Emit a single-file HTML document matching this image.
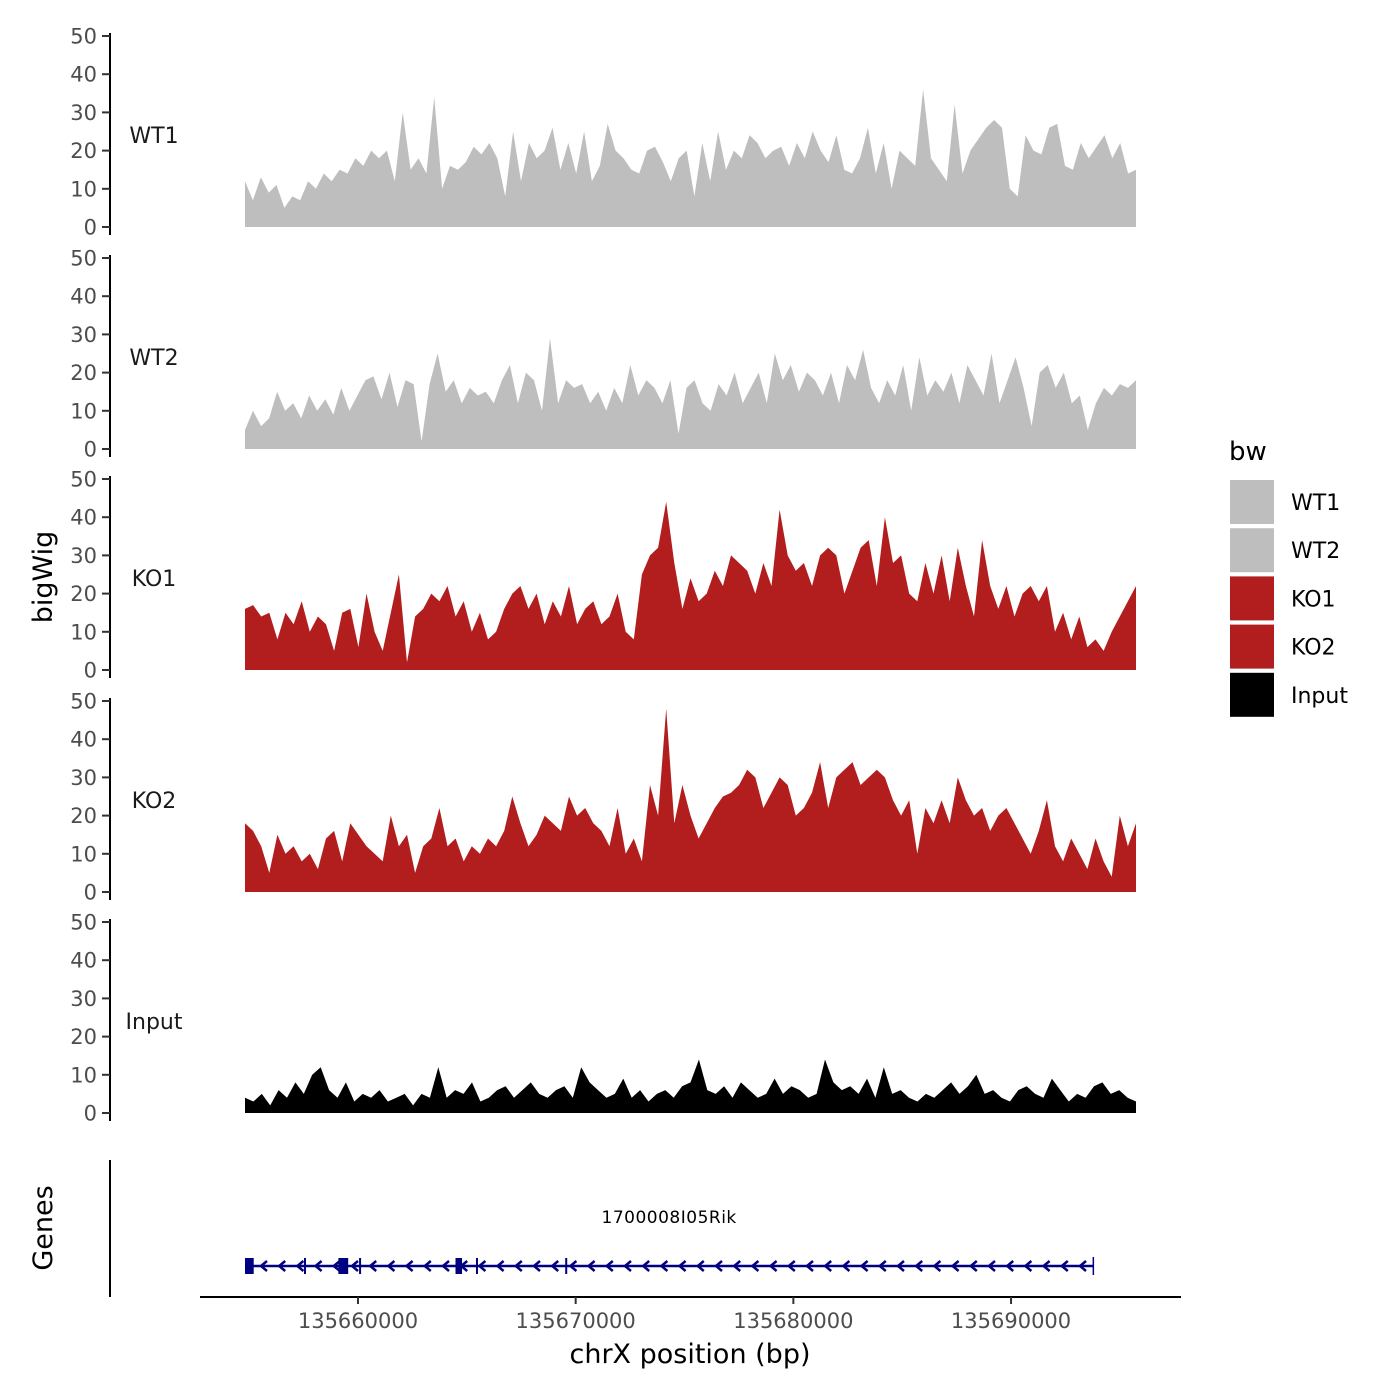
<!DOCTYPE html>
<html><head><meta charset="utf-8"><style>
html,body{margin:0;padding:0;background:#fff;}
svg{display:block;font-family:"DejaVu Sans","Liberation Sans",sans-serif;}
</style></head><body>
<svg id="chart" width="1400" height="1400" viewBox="0 0 1400 1400" xmlns="http://www.w3.org/2000/svg"></svg>
<script>
const regionStart = 135654810;
const regionEnd = 135695740;
const xTicks = [135660000, 135670000, 135680000, 135690000];
const yTicks = [0, 10, 20, 30, 40, 50];
const trackNames = ["WT1", "WT2", "KO1", "KO2", "Input"];
const trackColors = ["#bebebe", "#bebebe", "#b21e1e", "#b21e1e", "#000000"];
const wt1 = [12,7,13,9,11,5,8,7,12,10,14,12,15,14,18,16,20,18,20,12,30,15,18,14,34,10,16,15,17,21,19,22,18,8,25,12,22,18,20,26,15,22,14,25,12,16,27,20,18,15,14,20,21,17,12,18,20,8,22,12,25,15,20,18,24,22,18,20,21,16,22,18,25,20,17,24,15,14,18,26,14,22,10,20,18,16,36,18,15,12,32,14,20,23,26,28,26,10,8,24,20,19,26,27,16,15,22,18,21,24,18,22,14,15];
const wt2 = [5,10,6,8,15,10,12,8,14,10,13,9,16,10,14,18,19,13,20,11,18,17,2,17,25,15,18,12,16,14,15,12,18,22,12,20,18,10,29,12,18,16,17,12,15,10,16,12,22,14,18,16,12,18,4,16,18,12,10,17,14,20,12,16,20,12,25,18,22,15,20,18,14,20,12,22,18,26,16,12,18,14,22,10,24,14,18,15,20,12,22,18,14,25,12,18,24,16,6,20,22,16,20,12,14,5,12,16,14,17,16,18];
const ko1 = [16,17,14,15,8,15,12,18,10,14,12,5,15,16,6,20,10,5,15,25,2,14,16,20,18,22,14,18,10,15,8,10,16,20,22,16,20,12,18,14,22,12,16,18,12,14,20,10,8,25,30,32,44,28,16,24,18,20,26,22,30,28,26,20,28,22,42,30,26,28,22,30,32,30,20,26,32,34,22,40,28,30,20,18,28,20,30,18,32,22,14,34,22,16,22,14,20,22,18,22,10,15,8,14,6,8,5,10,14,18,22];
const ko2 = [18,16,12,5,15,10,12,8,10,6,14,16,8,18,15,12,10,8,20,12,15,5,12,14,22,12,14,8,12,10,14,12,16,25,18,12,15,20,18,16,25,20,22,18,16,12,22,10,14,8,28,20,48,18,28,20,14,18,22,25,26,28,32,30,22,26,30,28,20,22,26,34,22,30,32,34,28,30,32,30,24,20,24,10,22,18,24,18,30,24,20,22,16,20,22,18,14,10,16,24,12,8,14,10,6,14,8,4,20,12,18];
const inputVals = [4,3,5,2,6,4,8,5,10,12,6,4,8,3,5,4,6,3,4,5,2,5,4,12,4,6,5,8,3,4,6,7,4,6,8,5,4,6,7,4,12,8,6,4,5,9,4,6,3,5,6,4,7,8,14,6,5,7,4,8,6,4,5,9,5,7,6,4,5,14,8,6,7,5,9,4,12,5,6,4,3,5,4,6,8,5,7,10,5,6,4,3,6,7,5,4,9,6,3,5,4,7,8,5,6,4,3];
const trackValues = [wt1, wt2, ko1, ko2, inputVals];
const geneName = "1700008I05Rik";
const geneStart = 135654810;
const geneEnd = 135693780;
const exonStarts = [135654810,135657520,135659100,135660050,135664480,135665420,135669520];
const exonWidths = [400,80,450,90,300,90,60];

const NS = "http://www.w3.org/2000/svg";
const svg = document.getElementById("chart");
const X0 = 245, X1 = 1136;
const xs = v => X0 + (v - regionStart) / (regionEnd - regionStart) * (X1 - X0);
const panelBase = [227, 449, 670, 892, 1113];
const PH = 191;
function mk(tag, attrs, parent){const e=document.createElementNS(NS,tag);for(const k in attrs)e.setAttribute(k,attrs[k]);(parent||svg).appendChild(e);return e;}

trackNames.forEach((name, t) => {
  const base = panelBase[t];
  const ys = v => base - v / 50 * PH;
  const g = mk("g", {});
  
  
  const vals = trackValues[t];
  const n = vals.length;
  let d = "M" + X0 + "," + base;
  vals.forEach((v, i) => {
    const pos = regionStart + (regionEnd - regionStart) * i / (n - 1);
    d += " L" + xs(pos).toFixed(1) + "," + ys(v).toFixed(1);
  });
  d += " L" + X1 + "," + base + " Z";
  const area = mk("path", {d: d, fill: trackColors[t]}, g);
  
  
  const ax = mk("line", {x1: 110, x2: 110, y1: base - PH - 3, y2: base + 8, stroke: "#000", "stroke-width": 2}, g);
  
  
  yTicks.forEach(tv => {
    const y = ys(tv);
    mk("line", {x1: 102, x2: 110, y1: y, y2: y, stroke: "#333", "stroke-width": 2}, g);
    const tx = mk("text", {x: 97, y: y + 7.5, "text-anchor": "end", "font-size": 21, fill: "#4d4d4d"}, g);
    tx.textContent = tv;
    
    
  });
  const lbl = mk("text", {x: 154, y: base - 84, "text-anchor": "middle", "font-size": 22, fill: "#1a1a1a"}, g);
  lbl.textContent = name;
  
  
});

const yt = mk("text", {x: 0, y: 0, transform: "translate(52,577) rotate(-90)", "text-anchor": "middle", "font-size": 27, fill: "#000"});
yt.textContent = "bigWig";



const gg = mk("g", {});


mk("line", {x1: 110, x2: 110, y1: 1160, y2: 1297, stroke: "#000", "stroke-width": 2}, gg);
const gt = mk("text", {x: 0, y: 0, transform: "translate(52,1228) rotate(-90)", "text-anchor": "middle", "font-size": 27, fill: "#000"}, gg);
gt.textContent = "Genes";


const gy = 1266;
mk("line", {x1: xs(geneStart), x2: xs(geneEnd), y1: gy, y2: gy, stroke: "#000080", "stroke-width": 2.5}, gg);
mk("line", {x1: xs(geneEnd), x2: xs(geneEnd), y1: gy - 9, y2: gy + 9, stroke: "#000080", "stroke-width": 1.5}, gg);
for (let x = xs(geneStart) + 18; x < xs(geneEnd) - 5; x += 18.2) {
  mk("path", {d: `M${x+4},${gy-5} L${x-2},${gy} L${x+4},${gy+5}`, fill: "none", stroke: "#000080", "stroke-width": 2.5}, gg);
}
exonStarts.forEach((s, i) => {
  const r = mk("rect", {x: xs(s), y: gy - 8, width: Math.max(2, xs(s + exonWidths[i]) - xs(s)), height: 16, fill: "#000080"}, gg);
  
  
});
const gl = mk("text", {x: xs((geneStart + geneEnd) / 2), y: 1223, "text-anchor": "middle", "font-size": 17, fill: "#000", "letter-spacing": "0.5"}, gg);
gl.textContent = geneName;



const xa = mk("g", {});


mk("line", {x1: 200, x2: 1181, y1: 1297, y2: 1297, stroke: "#000", "stroke-width": 2}, xa);
xTicks.forEach(tv => {
  const x = xs(tv);
  mk("line", {x1: x, x2: x, y1: 1297, y2: 1304, stroke: "#333", "stroke-width": 2}, xa);
  const t = mk("text", {x: x, y: 1328, "text-anchor": "middle", "font-size": 21, fill: "#4d4d4d"}, xa);
  t.textContent = tv;
  
  
});
const xt = mk("text", {x: 690, y: 1363, "text-anchor": "middle", "font-size": 27, fill: "#000"});
xt.textContent = "chrX position (bp)";



const lg = mk("g", {});


const lt = mk("text", {x: 1229, y: 460, "font-size": 26, fill: "#000"}, lg);
lt.textContent = "bw";


trackNames.forEach((name, i) => {
  const y = 480 + i * 48.2;
  const e = mk("g", {}, lg);
  
  
  mk("rect", {x: 1230, y: y, width: 44, height: 44, fill: trackColors[i]}, e);
  const t = mk("text", {x: 1291, y: y + 30, "font-size": 22, fill: "#000"}, e);
  t.textContent = name;
});
</script>
</body></html>
